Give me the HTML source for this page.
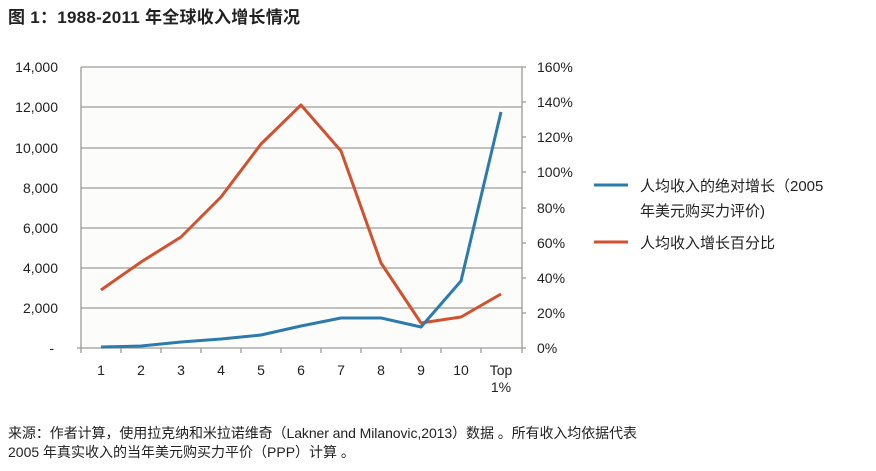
<!DOCTYPE html>
<html><head><meta charset="utf-8"><style>
body{margin:0;background:#fff;width:876px;height:471px;overflow:hidden;font-family:"Liberation Sans","Noto Sans CJK SC",sans-serif;}
</style></head><body>
<svg width="876" height="471" xmlns="http://www.w3.org/2000/svg" style="position:absolute;left:0;top:0">
<text x="8" y="23" font-size="17" font-weight="bold" fill="#222" textLength="292" font-family="Liberation Sans,Noto Sans CJK SC,sans-serif">图 1：1988-2011 年全球收入增长情况</text>
<rect x="81" y="67" width="441" height="281" fill="#fcfcfa"/>
<g stroke="#9a9a9a" stroke-width="1.3">
<line x1="81" y1="67" x2="522" y2="67"/><line x1="81" y1="107" x2="522" y2="107"/><line x1="81" y1="148" x2="522" y2="148"/><line x1="81" y1="188" x2="522" y2="188"/><line x1="81" y1="228" x2="522" y2="228"/><line x1="81" y1="268" x2="522" y2="268"/><line x1="81" y1="308" x2="522" y2="308"/><line x1="77" y1="348" x2="526" y2="348"/>
<line x1="81" y1="67" x2="81" y2="353"/><line x1="522" y1="67" x2="522" y2="353"/>
<line x1="121" y1="348" x2="121" y2="353"/><line x1="161" y1="348" x2="161" y2="353"/><line x1="201" y1="348" x2="201" y2="353"/><line x1="241" y1="348" x2="241" y2="353"/><line x1="281" y1="348" x2="281" y2="353"/><line x1="321" y1="348" x2="321" y2="353"/><line x1="361" y1="348" x2="361" y2="353"/><line x1="401" y1="348" x2="401" y2="353"/><line x1="441" y1="348" x2="441" y2="353"/><line x1="481" y1="348" x2="481" y2="353"/>
<line x1="522" y1="67" x2="526" y2="67"/><line x1="522" y1="102" x2="526" y2="102"/><line x1="522" y1="137" x2="526" y2="137"/><line x1="522" y1="172" x2="526" y2="172"/><line x1="522" y1="208" x2="526" y2="208"/><line x1="522" y1="243" x2="526" y2="243"/><line x1="522" y1="278" x2="526" y2="278"/><line x1="522" y1="313" x2="526" y2="313"/>
</g>
<g font-size="14" fill="#222" text-anchor="end">
<text x="58" y="72">14,000</text><text x="58" y="112">12,000</text><text x="58" y="153">10,000</text><text x="58" y="193">8,000</text><text x="58" y="233">6,000</text><text x="58" y="273">4,000</text><text x="58" y="313">2,000</text><text x="54" y="353">-</text>
</g>
<g font-size="14" fill="#222">
<text x="537" y="72">160%</text><text x="537" y="107">140%</text><text x="537" y="142">120%</text><text x="537" y="177">100%</text><text x="537" y="213">80%</text><text x="537" y="248">60%</text><text x="537" y="283">40%</text><text x="537" y="318">20%</text><text x="537" y="353">0%</text>
</g>
<g font-size="14" fill="#222" text-anchor="middle">
<text x="101" y="375">1</text><text x="141" y="375">2</text><text x="181" y="375">3</text><text x="221" y="375">4</text><text x="261" y="375">5</text><text x="301" y="375">6</text><text x="341" y="375">7</text><text x="381" y="375">8</text><text x="421" y="375">9</text><text x="461" y="375">10</text><text x="501" y="375">Top</text><text x="501" y="392">1%</text>
</g>
<polyline fill="none" stroke="#d2512f" stroke-width="3" stroke-linejoin="round" points="101,290 141,262 181,237 221,197 261,144 301,105 341,151 381,263 421,323 461,317 501,294"/>
<polyline fill="none" stroke="#2c7bac" stroke-width="3" stroke-linejoin="round" points="101,347 141,346 181,342 221,339 261,335 301,326 341,318 381,318 421,327 461,281 501,112"/>
<line x1="594" y1="185" x2="628" y2="185" stroke="#2c7bac" stroke-width="3"/>
<line x1="594" y1="242" x2="628" y2="242" stroke="#d2512f" stroke-width="3"/>
<g font-size="15" fill="#222">
<text x="640" y="191">人均收入的绝对增长（2005</text>
<text x="640" y="216">年美元购买力评价)</text>
<text x="640" y="248">人均收入增长百分比</text>
</g>
<g font-size="14" fill="#222">
<text x="8" y="438" textLength="629">来源：作者计算，使用拉克纳和米拉诺维奇（Lakner and Milanovic,2013）数据 。所有收入均依据代表</text>
<text x="8" y="457">2005 年真实收入的当年美元购买力平价（PPP）计算 。</text>
</g>
</svg>
</body></html>
